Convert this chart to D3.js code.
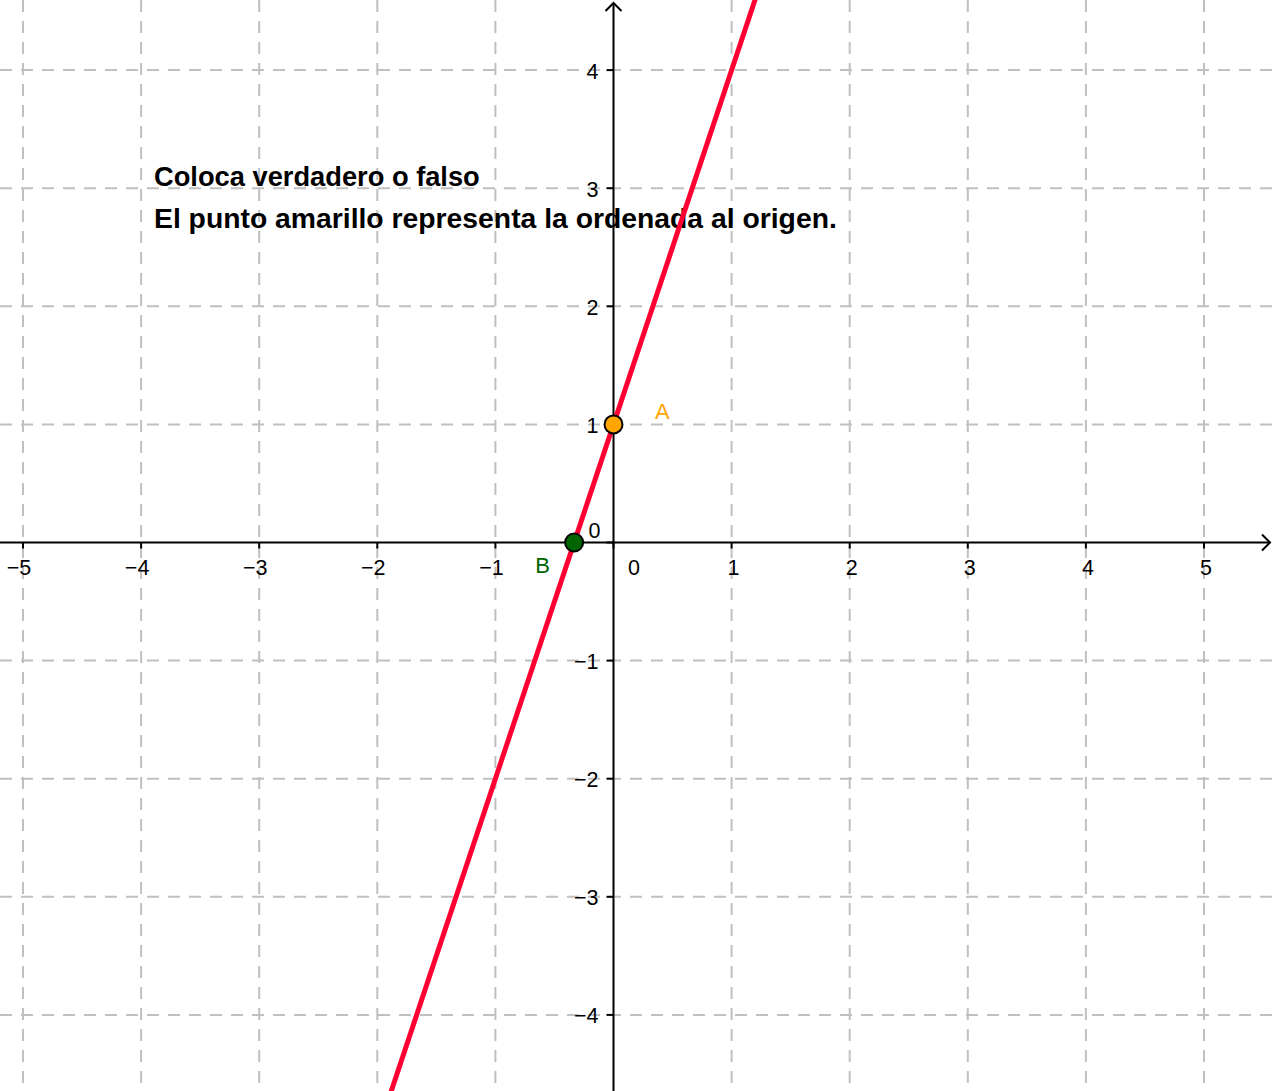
<!DOCTYPE html>
<html><head><meta charset="utf-8">
<script src="https://cdn.jsdelivr.net/npm/d3@7"></script>
<style>html,body{margin:0;padding:0;background:#fff;overflow:hidden}</style>
</head><body>
<svg id="c" width="1273" height="1091"></svg>
<script>
const xTicks = [-5,-4,-3,-2,-1,1,2,3,4,5];
const yTicks = [-4,-3,-2,-1,1,2,3,4];
const slope = [3];
const intercept = [1];
const pointNames = ["A","B"];
const pointX = [0,-1/3];
const pointY = [1,0];
const pointColors = ["#ffa500","#006400"];
const titleLines = ["Coloca verdadero o falso","El punto amarillo representa la ordenada al origen."];

const W=1273,H=1091, ox=613.5, oy=542.5, u=118.1;
const x = d3.scaleLinear().domain([-ox/u,(W-ox)/u]).range([0,W]);
const y = d3.scaleLinear().domain([-(H-oy)/u, oy/u]).range([H,0]);
const svg = d3.select("#c");
const font = "Liberation Sans";

// grid
const g = svg.append("g").attr("stroke","#c0c0c0").attr("stroke-width",2).attr("stroke-dasharray","12,9");
g.selectAll("line.v").data(xTicks).join("line").attr("x1",d=>x(d)).attr("x2",d=>x(d)).attr("y1",0).attr("y2",H);
g.selectAll("line.h").data(yTicks).join("line").attr("x1",0).attr("x2",W).attr("y1",d=>y(d)).attr("y2",d=>y(d));

// title text (under axes and line)
const widths=[326,683];
svg.selectAll("text.t").data(titleLines).join("text").attr("x",154).attr("y",(d,i)=>186+i*42)
  .attr("font-family",font).attr("font-weight","bold").attr("font-size",24).attr("fill","#000").text(d=>d)
  .each(function(d,i){const w=this.getComputedTextLength(); d3.select(this).attr("font-size",24*widths[i]/w);});

// axes
const ax = svg.append("g").attr("stroke","#000").attr("stroke-width",2).attr("fill","none");
ax.append("line").attr("x1",0).attr("x2",W-3).attr("y1",y(0)).attr("y2",y(0));
ax.append("line").attr("x1",x(0)).attr("x2",x(0)).attr("y1",H).attr("y2",3);
ax.append("path").attr("d",`M${W-11},${y(0)-8}L${W-3},${y(0)}L${W-11},${y(0)+8}`);
ax.append("path").attr("d",`M${x(0)-8},${11}L${x(0)},3L${x(0)+8},11`);
ax.selectAll("line.tx").data(xTicks).join("line").attr("x1",d=>x(d)).attr("x2",d=>x(d)).attr("y1",y(0)).attr("y2",y(0)+6);
ax.selectAll("line.ty").data(yTicks).join("line").attr("x1",x(0)-7).attr("x2",x(0)).attr("y1",d=>y(d)).attr("y2",d=>y(d));
ax.append("line").attr("x1",x(0)-7).attr("x2",x(0)).attr("y1",y(0)).attr("y2",y(0));
ax.append("line").attr("x1",x(0)).attr("x2",x(0)).attr("y1",y(0)).attr("y2",y(0)+6);

const fmt = d => d<0 ? "\u2212"+Math.abs(d) : String(d);
const tl = svg.append("g").attr("font-family",font).attr("font-size",21.5).attr("fill","#000");
tl.selectAll("text.x").data(xTicks).join("text").attr("x",d=>x(d)+(d<0?-4:2)).attr("y",y(0)+32.5).attr("text-anchor","middle").text(fmt);
tl.selectAll("text.y").data(yTicks).join("text").attr("x",x(0)-15).attr("y",d=>y(d)+8.5).attr("text-anchor","end").text(fmt);
tl.append("text").attr("x",x(0)-13).attr("y",y(0)-4.5).attr("text-anchor","end").text("0");
tl.append("text").attr("x",x(0)+20.5).attr("y",y(0)+32.5).attr("text-anchor","middle").text("0");

// line
const xs = [x.domain()[0], x.domain()[1]];
svg.append("line").attr("x1",x(xs[0])).attr("y1",y(slope[0]*xs[0]+intercept[0]))
  .attr("x2",x(xs[1])).attr("y2",y(slope[0]*xs[1]+intercept[0]))
  .attr("stroke","#ff0033").attr("stroke-width",5);

// points
const pts = pointNames.map((n,i)=>({n,x:pointX[i],y:pointY[i],c:pointColors[i]}));
svg.selectAll("circle.p").data(pts).join("circle").attr("cx",d=>x(d.x)).attr("cy",d=>y(d.y)).attr("r",9)
  .attr("fill",d=>d.c).attr("stroke","#000").attr("stroke-width",2);
const off = {A:[41.5,-5.5],B:[-39,30.5]};
svg.selectAll("text.pl").data(pts).join("text").attr("x",d=>x(d.x)+off[d.n][0]).attr("y",d=>y(d.y)+off[d.n][1])
  .attr("font-family",font).attr("font-size",22).attr("fill",d=>d.c).text(d=>d.n);
</script>
</body></html>
